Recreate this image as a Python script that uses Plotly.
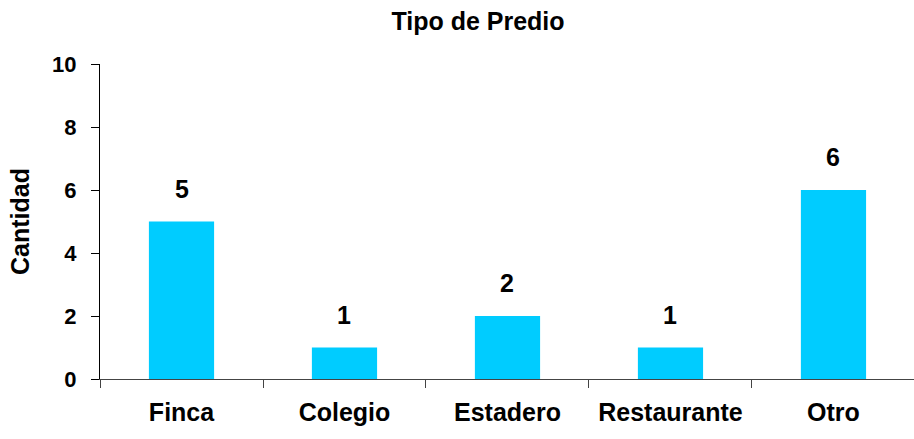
import plotly.graph_objects as go

categories = ["Finca", "Colegio", "Estadero", "Restaurante", "Otro"]
values = [5, 1, 2, 1, 6]
y_ticks = [0, 2, 4, 6, 8, 10]
title_text = "Tipo de Predio"
y_title = "Cantidad"

FONT = "Liberation Sans, Arial, sans-serif"
BAR_COLOR = "#00CCFF"

fig = go.Figure()
fig.add_trace(go.Bar(
    x=categories, y=values, width=0.4,
    marker=dict(color=BAR_COLOR, line=dict(width=0)),
    hoverinfo="skip", showlegend=False,
))

for c, v in zip(categories, values):
    fig.add_annotation(
        x=c, y=v, xref="x", yref="y", text=str(v), showarrow=False,
        yanchor="bottom", yshift=17,
        font=dict(family=FONT, size=25, color="black", weight="bold"),
    )

fig.update_layout(
    width=914, height=439,
    margin=dict(l=100, r=0, t=64, b=60),
    paper_bgcolor="white", plot_bgcolor="white",
    title=dict(text=title_text, x=0.523, xanchor="center", y=0.952, yanchor="middle",
               yref="container",
               font=dict(family=FONT, size=25, color="black", weight="bold")),
    bargap=0.6,
)

fig.update_xaxes(
    type="category", range=[-0.5, 4.494],
    showline=True, linecolor="#444444", linewidth=1,
    ticks="outside", tickson="boundaries", ticklen=8, tickcolor="#444444",
    tickfont=dict(family=FONT, size=25, color="black", weight="bold"),
    ticklabelstandoff=11,
    showgrid=False, zeroline=False, fixedrange=True,
)
fig.update_yaxes(
    range=[0, 10], tickvals=y_ticks, ticktext=[str(t) for t in y_ticks],
    showline=True, linecolor="black", linewidth=1,
    ticks="outside", ticklen=8, tickcolor="black",
    tickfont=dict(family=FONT, size=22, color="black", weight="bold"),
    ticklabelstandoff=10,
    showgrid=False, zeroline=False, fixedrange=True,
    title=dict(text=y_title, standoff=15,
               font=dict(family=FONT, size=25, color="black", weight="bold")),
)

fig.write_html("out.html")
